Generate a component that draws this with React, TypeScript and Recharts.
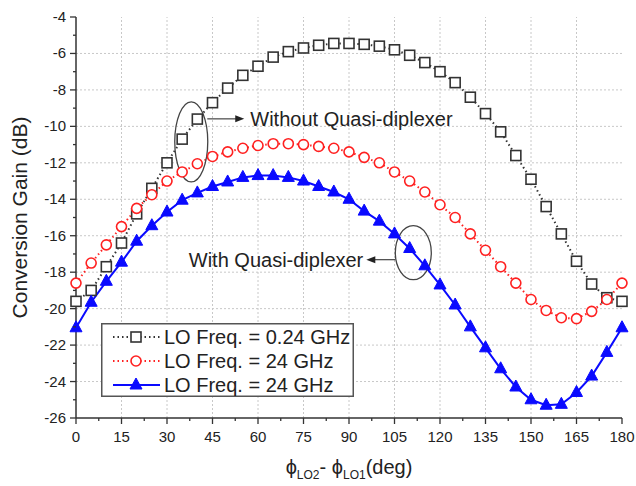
import { LineChart, Line, XAxis, YAxis, ReferenceLine, ReferenceDot, Legend, Label } from "recharts";

const phase = [0, 5, 10, 15, 20, 25, 30, 35, 40, 45, 50, 55, 60, 65, 70, 75, 80, 85, 90, 95, 100, 105, 110, 115, 120, 125, 130, 135, 140, 145, 150, 155, 160, 165, 170, 175, 180];

// LO 0.24 GHz, without quasi-diplexer
const gainLo024 = [-19.6, -19.0, -17.7, -16.4, -14.8, -13.4, -12.0, -10.7, -9.6, -8.7, -7.9, -7.2, -6.7, -6.2, -5.9, -5.7, -5.55, -5.45, -5.45, -5.5, -5.6, -5.8, -6.1, -6.5, -7.0, -7.6, -8.4, -9.3, -10.3, -11.6, -12.9, -14.4, -15.9, -17.4, -18.65, -19.4, -19.6];
// LO 24 GHz, without quasi-diplexer
const gainLo24 = [-18.6, -17.5, -16.5, -15.5, -14.5, -13.75, -13.0, -12.5, -12.05, -11.65, -11.4, -11.2, -11.05, -10.95, -10.95, -11.0, -11.1, -11.2, -11.4, -11.7, -12.0, -12.5, -13.0, -13.6, -14.3, -15.0, -15.9, -16.8, -17.7, -18.6, -19.5, -20.1, -20.5, -20.55, -20.15, -19.5, -18.6];
// LO 24 GHz, with quasi-diplexer
const gainLo24Dip = [-21.05, -19.65, -18.5, -17.45, -16.3, -15.45, -14.7, -14.05, -13.65, -13.3, -13.05, -12.8, -12.7, -12.7, -12.8, -13.0, -13.3, -13.6, -14.0, -14.65, -15.2, -15.9, -16.7, -17.65, -18.7, -19.8, -21.0, -22.15, -23.3, -24.3, -25.0, -25.3, -25.25, -24.6, -23.7, -22.4, -21.05];

const xTicks = [0, 7.5, 15, 22.5, 30, 37.5, 45, 52.5, 60, 67.5, 75, 82.5, 90, 97.5, 105, 112.5, 120, 127.5, 135, 142.5, 150, 157.5, 165, 172.5, 180];
const yTicks = [-26, -25, -24, -23, -22, -21, -20, -19, -18, -17, -16, -15, -14, -13, -12, -11, -10, -9, -8, -7, -6, -5, -4];
const xGrid = [15, 30, 45, 60, 75, 90, 105, 120, 135, 150, 165];
const yGrid = [-24, -22, -20, -18, -16, -14, -12, -10, -8, -6];

const legendLabels = ["LO Freq. = 0.24 GHz", "LO Freq. = 24 GHz", "LO Freq. = 24 GHz"];

const data = phase.map((p, i) => ({ phase: p, a: gainLo024[i], b: gainLo24[i], c: gainLo24Dip[i] }));

const FONT = '"Liberation Sans", Arial, sans-serif';
const INK = "#222";
const FRAME = "#333";

function XTick({ x, y, payload }: any) {
  const v = payload.value;
  const major = v % 15 === 0;
  return (
    <g>
      <line x1={x} x2={x} y1={y} y2={y + (major ? 6 : 3)} stroke={FRAME} strokeWidth={1.3} />
      {major && (
        <text x={x} y={y + 24} textAnchor="middle" fontSize={15} fill={INK} fontFamily={FONT}>
          {v}
        </text>
      )}
    </g>
  );
}

function YTick({ x, y, payload }: any) {
  const v = payload.value;
  const major = v % 2 === 0;
  return (
    <g>
      <line x1={x} x2={x - (major ? 6 : 3)} y1={y} y2={y} stroke={FRAME} strokeWidth={1.3} />
      {major && (
        <text x={x - 10} y={y + 5} textAnchor="end" fontSize={15} fill={INK} fontFamily={FONT}>
          {v}
        </text>
      )}
    </g>
  );
}

const square = (cx: number, cy: number, key?: string) => (
  <rect key={key} x={cx - 5} y={cy - 5} width={10} height={10} fill="#fff" stroke="#333" strokeWidth={1.6} />
);
const circle = (cx: number, cy: number, key?: string) => (
  <circle key={key} cx={cx} cy={cy} r={5} fill="#fff" stroke="#ff2020" strokeWidth={1.6} />
);
const triangle = (cx: number, cy: number, key?: string) => (
  <polygon key={key} points={`${cx},${cy - 7} ${cx - 6},${cy + 4} ${cx + 6},${cy + 4}`} fill="#0a0aff" stroke="#0a0aff" />
);

function LegendBox() {
  const rows = [
    { y: 14, stroke: "#333", dash: "1.5 3", mark: square },
    { y: 38, stroke: "#ff2020", dash: "1.5 3", mark: circle },
    { y: 62, stroke: "#0a0aff", dash: undefined, mark: triangle },
  ];
  return (
    <svg width={253} height={74} style={{ display: "block" }}>
      <rect x={0.75} y={0.75} width={251.5} height={72.5} fill="#fff" stroke="#555" strokeWidth={1.5} />
      {rows.map((r, i) => (
        <g key={i}>
          <line x1={12} x2={59} y1={r.y} y2={r.y} stroke={r.stroke} strokeWidth={2} strokeDasharray={r.dash} />
          {r.mark(35, r.y)}
          <text x={63} y={r.y + 7} fontSize={20} fill={INK} fontFamily={FONT}>
            {legendLabels[i]}
          </text>
        </g>
      ))}
    </svg>
  );
}

function NoteWithout({ cx, cy }: any) {
  return (
    <g>
      <ellipse cx={cx} cy={cy} rx={16.5} ry={40} fill="none" stroke="#444" strokeWidth={1.3} />
      <line x1={cx + 16} x2={cx + 46} y1={cy - 23} y2={cy - 23} stroke="#444" strokeWidth={1.2} />
      <polygon points={`${cx + 53},${cy - 23} ${cx + 44},${cy - 26.5} ${cx + 44},${cy - 19.5}`} fill="#222" />
      <text x={cx + 59} y={cy - 16} fontSize={20} fill={INK} fontFamily={FONT}>
        Without Quasi-diplexer
      </text>
    </g>
  );
}

function NoteWith({ cx, cy }: any) {
  return (
    <g>
      <ellipse cx={cx} cy={cy} rx={18} ry={27} fill="none" stroke="#444" strokeWidth={1.3} />
      <line x1={cx - 18} x2={cx - 40} y1={cy + 7} y2={cy + 7} stroke="#444" strokeWidth={1.2} />
      <polygon points={`${cx - 47},${cy + 7} ${cx - 38},${cy + 3.5} ${cx - 38},${cy + 10.5}`} fill="#222" />
      <text x={cx - 50} y={cy + 14} textAnchor="end" fontSize={20} fill={INK} fontFamily={FONT}>
        With Quasi-diplexer
      </text>
    </g>
  );
}

export default function App() {
  return (
    <div style={{ position: "absolute", left: 0, top: 0, width: 636, height: 486, background: "#fff", fontFamily: FONT }}>
      <LineChart width={636} height={486} data={data} margin={{ top: 17, right: 14, bottom: 0, left: 0 }}>
        {xGrid.map((v) => (
          <ReferenceLine key={`gx${v}`} x={v} stroke="#c8c8c8" strokeDasharray="2 2" />
        ))}
        {yGrid.map((v) => (
          <ReferenceLine key={`gy${v}`} y={v} stroke="#c8c8c8" strokeDasharray="2 2" />
        ))}
        <XAxis
          dataKey="phase"
          type="number"
          domain={[0, 180]}
          ticks={xTicks}
          interval={0}
          height={68}
          tickSize={0}
          tickMargin={0}
          tickLine={false}
          tick={<XTick />}
          axisLine={{ stroke: FRAME, strokeWidth: 1.5 }}
        >
          <Label
            content={(props: any) => {
              const vb = props.viewBox;
              const cx = vb.x + vb.width / 2;
              const y = vb.y + 56;
              return (
                <text x={cx} y={y} textAnchor="middle" fontSize={20} fill={INK} fontFamily={FONT}>
                  ϕ<tspan fontSize={12} dy={5}>LO2</tspan>
                  <tspan dy={-5}>- ϕ</tspan>
                  <tspan fontSize={12} dy={5}>LO1</tspan>
                  <tspan dy={-5}>(deg)</tspan>
                </text>
              );
            }}
          />
        </XAxis>
        <XAxis xAxisId="top" orientation="top" type="number" domain={[0, 180]} height={0} tick={false} tickLine={false} axisLine={{ stroke: FRAME, strokeWidth: 1.5 }} />
        <YAxis
          type="number"
          domain={[-26, -4]}
          ticks={yTicks}
          interval={0}
          width={76}
          tickSize={0}
          tickMargin={0}
          tickLine={false}
          tick={<YTick />}
          axisLine={{ stroke: FRAME, strokeWidth: 1.5 }}
        >
          <Label
            content={(props: any) => {
              const vb = props.viewBox;
              const x = vb.x + 19;
              const y = vb.y + vb.height / 2;
              return (
                <text x={x} y={y} transform={`rotate(-90 ${x} ${y})`} textAnchor="middle" dominantBaseline="central" fontSize={21} fill={INK} fontFamily={FONT}>
                  Conversion Gain (dB)
                </text>
              );
            }}
          />
        </YAxis>
        <YAxis yAxisId="right" orientation="right" type="number" domain={[-26, -4]} width={0} tick={false} tickLine={false} axisLine={{ stroke: FRAME, strokeWidth: 1.5 }} />
        <Line
          dataKey="a"
          type="linear"
          stroke="#333"
          strokeWidth={2}
          strokeDasharray="1.5 3"
          dot={(p: any) => square(p.cx, p.cy, `a${p.index}`)}
          isAnimationActive={false}
        />
        <Line
          dataKey="b"
          type="linear"
          stroke="#ff2020"
          strokeWidth={2}
          strokeDasharray="1.5 3"
          dot={(p: any) => circle(p.cx, p.cy, `b${p.index}`)}
          isAnimationActive={false}
        />
        <Line
          dataKey="c"
          type="linear"
          stroke="#0a0aff"
          strokeWidth={2}
          dot={(p: any) => triangle(p.cx, p.cy, `c${p.index}`)}
          isAnimationActive={false}
        />
        <ReferenceDot x={38} y={-10.85} r={1} shape={(p: any) => <NoteWithout cx={p.cx} cy={p.cy} />} />
        <ReferenceDot x={111.2} y={-16.93} r={1} shape={(p: any) => <NoteWith cx={p.cx} cy={p.cy} />} />
        <Legend
          layout="horizontal"
          verticalAlign="middle"
          align="center"
          content={() => <LegendBox />}
          wrapperStyle={{ left: 101, top: 323, width: 253, height: 74 }}
        />
      </LineChart>
    </div>
  );
}
